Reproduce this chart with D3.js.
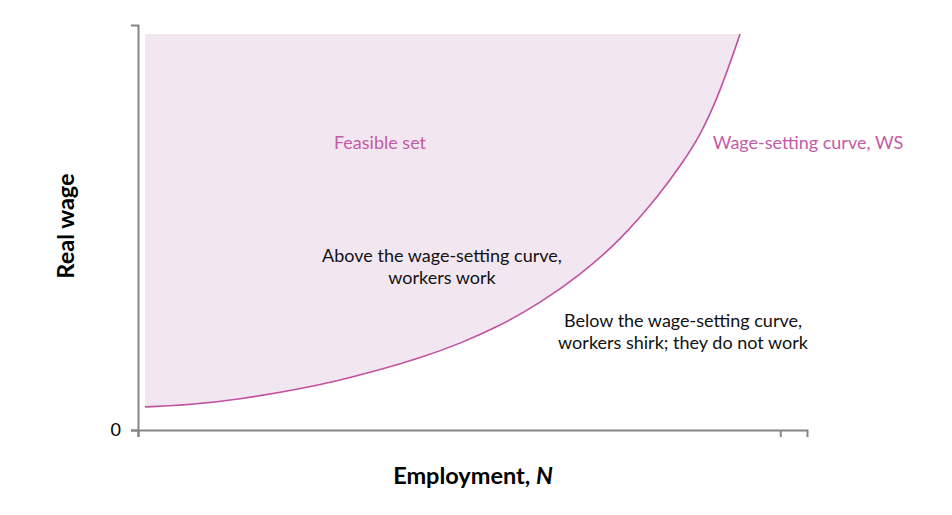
<!DOCTYPE html>
<html lang="en">
<meta charset="UTF-8">
<title>Wage-setting curve</title>
<script src="https://d3js.org/d3.v7.min.js"></script>
<style>
html, body { margin: 0; padding: 0; background: #fff; }
body { font-family: "Lato", "Open Sans", sans-serif; }
.axis path, .axis line { stroke: #858585; stroke-width: 2; }
</style>
<body>
<div id="chart"></div>
<script>
// curve (employment, real wage), both axes 0-100
var employment = [1.05, 7.8, 15.3, 24.2, 30.2, 36.2, 42.2, 48.1, 54.1, 60.1, 66.1,
                  72.1, 78.0, 81.0, 84.0, 87.0, 90.0];
var realWage   = [5.7, 6.2, 7.6, 10.1, 12.3, 14.85, 17.8, 21.3, 25.7, 31.35, 38.3,
                  46.85, 58.2, 65.1, 72.5, 83.4, 97.8];
var feasibleTop = 97.8;
var xTicks = [0, 96];
var yTicks = [0];

var width = 952, height = 515;
var margin = {top: 25, right: 145, bottom: 85, left: 138};

var svg = d3.select("#chart").append("svg")
    .attr("width", width)
    .attr("height", height);

var x = d3.scaleLinear().domain([0, 100]).range([margin.left, width - margin.right]);
var y = d3.scaleLinear().domain([0, 100]).range([height - margin.bottom, margin.top]);

var pts = employment.map(function(d, i) { return {n: d, w: realWage[i]}; });

// feasible set: between the top and the curve
var area = d3.area()
    .x(function(d) { return x(d.n); })
    .y0(y(feasibleTop))
    .y1(function(d) { return y(d.w); })
    .curve(d3.curveBasis);

svg.append("path")
    .datum(pts)
    .attr("d", area)
    .attr("fill", "#f2e7f1");

var line = d3.line()
    .x(function(d) { return x(d.n); })
    .y(function(d) { return y(d.w); })
    .curve(d3.curveBasis);

svg.append("path")
    .datum(pts)
    .attr("d", line)
    .attr("fill", "none")
    .attr("stroke", "#c2519f")
    .attr("stroke-width", 1.6);

// axes
svg.append("g")
    .attr("class", "axis")
    .attr("transform", "translate(0," + y(0) + ")")
    .call(d3.axisBottom(x).tickValues(xTicks).tickFormat("").tickSize(7).tickSizeOuter(7));

var yAxis = svg.append("g")
    .attr("class", "axis")
    .attr("transform", "translate(" + x(0) + ",0)")
    .call(d3.axisLeft(y).tickValues(yTicks).tickSize(7).tickSizeOuter(7));
yAxis.selectAll("text")
    .attr("x", -17)
    .style("font-family", "Lato, sans-serif")
    .style("font-size", "18px")
    .attr("fill", "#000");

// labels
svg.append("text")
    .attr("x", 66).attr("y", 226)
    .attr("transform", "rotate(-90,66,226)")
    .attr("text-anchor", "middle")
    .attr("dy", "0.35em")
    .style("font-size", "23.5px").style("font-weight", "bold")
    .text("Real wage");

var xl = svg.append("text")
    .attr("x", 473).attr("y", 476)
    .attr("text-anchor", "middle")
    .attr("dy", "0.35em")
    .style("font-size", "23.5px").style("font-weight", "bold");
xl.append("tspan").text("Employment, ");
xl.append("tspan").style("font-style", "italic").text("N");

function note(lines, cx, cy, color) {
  var t = svg.append("text")
      .attr("text-anchor", "middle")
      .attr("fill", color)
      .style("font-size", "18px");
  lines.forEach(function(s, i) {
    t.append("tspan").attr("x", cx).attr("y", cy + i * 22).attr("dy", "0.35em").text(s);
  });
}

note(["Feasible set"], 380, 143, "#c45aa6");
note(["Wage-setting curve, WS"], 808, 143, "#c45aa6");
note(["Above the wage-setting curve,", "workers work"], 442, 256, "#111");
note(["Below the wage-setting curve,", "workers shirk; they do not work"], 683, 321, "#111");
</script>
</body>
</html>
